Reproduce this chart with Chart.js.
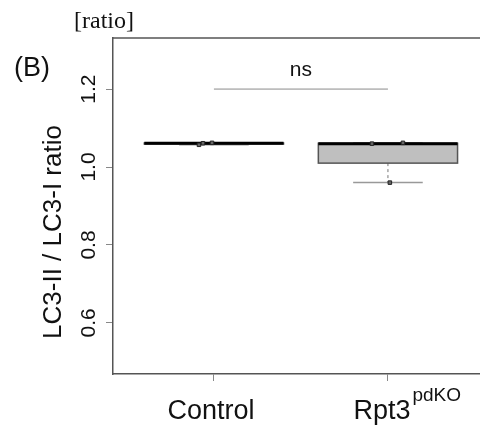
<!DOCTYPE html>
<html>
<head>
<meta charset="utf-8">
<title>LC3-II / LC3-I ratio</title>
<script src="https://cdn.jsdelivr.net/npm/chart.js@4.4.1/dist/chart.umd.min.js"></script>
<style>
  html, body { margin: 0; padding: 0; background: #fff; overflow: hidden; }
  #wrap { width: 480px; height: 427px; position: relative; }
</style>
</head>
<body>
<div id="wrap"><canvas id="chart"></canvas></div>
<script>
// groups on the x axis
const groups = ['Control', 'Rpt3'];
const groupSup = ['', 'pdKO'];
const groupPos = [1, 2];

// individual samples and where they were jittered to
const controlValues = [1.057, 1.061, 1.062];
const controlJitter = [0.914, 0.937, 0.989];
const rpt3Values = [1.060, 1.062, 0.960];
const rpt3Jitter = [1.908, 2.086, 2.011];

// axes
const yTicks = [0.6, 0.8, 1.0, 1.2];
const yRange = [0.469, 1.331];
const xRange = [0.42, 2.529];

// significance bracket
const bracketY = 1.2;
const bracketLabel = 'ns';

const sans = "'Liberation Sans', Arial, sans-serif";
const serif = "'Liberation Serif', 'Times New Roman', serif";

// Tukey five number summary, like R's fivenum()
function fivenum(values) {
    const s = values.slice().sort((a, b) => a - b);
    const n = s.length;
    const n4 = Math.floor((n + 3) / 2) / 2;
    const d = [1, n4, (n + 1) / 2, n + 1 - n4, n];
    return d.map(p => 0.5 * (s[Math.floor(p) - 1] + s[Math.ceil(p) - 1]));
}

const boxes = [controlValues, rpt3Values].map(vals => {
    const f = fivenum(vals);
    const iqr = f[3] - f[1];
    const inside = vals.filter(v => v >= f[1] - 1.5 * iqr && v <= f[3] + 1.5 * iqr);
    return {
        lo: Math.min(...inside),
        q1: f[1],
        med: f[2],
        q3: f[3],
        hi: Math.max(...inside)
    };
});

// box, whiskers, staples and median, drawn under the points
const boxPlugin = {
    id: 'boxes',
    beforeDatasetsDraw(chart) {
        const ctx = chart.ctx;
        const x = chart.scales.x;
        const y = chart.scales.y;
        boxes.forEach((b, i) => {
            const cx = groupPos[i];
            const left = x.getPixelForValue(cx - 0.4);
            const right = x.getPixelForValue(cx + 0.4);
            const sl = x.getPixelForValue(cx - 0.2);
            const sr = x.getPixelForValue(cx + 0.2);
            const mid = x.getPixelForValue(cx);

            ctx.save();
            // whiskers
            ctx.strokeStyle = '#777';
            ctx.lineWidth = 1;
            ctx.setLineDash([3, 3]);
            ctx.beginPath();
            ctx.moveTo(mid, y.getPixelForValue(b.q1));
            ctx.lineTo(mid, y.getPixelForValue(b.lo));
            ctx.moveTo(mid, y.getPixelForValue(b.q3));
            ctx.lineTo(mid, y.getPixelForValue(b.hi));
            ctx.stroke();

            // staples
            ctx.setLineDash([]);
            ctx.strokeStyle = '#999';
            ctx.lineWidth = 1.5;
            ctx.beginPath();
            ctx.moveTo(sl, y.getPixelForValue(b.lo));
            ctx.lineTo(sr, y.getPixelForValue(b.lo));
            ctx.moveTo(sl, y.getPixelForValue(b.hi));
            ctx.lineTo(sr, y.getPixelForValue(b.hi));
            ctx.stroke();

            // box
            const top = y.getPixelForValue(b.q3);
            const bottom = y.getPixelForValue(b.q1);
            ctx.fillStyle = '#bfbfbf';
            ctx.fillRect(left, top, right - left, bottom - top);
            ctx.strokeStyle = '#555';
            ctx.lineWidth = 1.5;
            ctx.strokeRect(left, top, right - left, bottom - top);

            // median
            ctx.strokeStyle = '#000';
            ctx.lineWidth = 3;
            ctx.beginPath();
            ctx.moveTo(left, y.getPixelForValue(b.med));
            ctx.lineTo(right, y.getPixelForValue(b.med));
            ctx.stroke();
            ctx.restore();
        });
    }
};

// all the text, R style: rotated y tick labels, group names, panel letter
const textPlugin = {
    id: 'texts',
    afterDraw(chart) {
        const ctx = chart.ctx;
        const x = chart.scales.x;
        const y = chart.scales.y;
        const area = chart.chartArea;

        ctx.save();
        // top border of the plot box (right side runs off the canvas)
        ctx.strokeStyle = '#555';
        ctx.lineWidth = 1.5;
        ctx.beginPath();
        ctx.moveTo(area.left, area.top);
        ctx.lineTo(chart.width, area.top);
        ctx.stroke();

        ctx.fillStyle = '#111';
        ctx.textBaseline = 'middle';
        ctx.textAlign = 'center';

        // y tick labels
        ctx.font = '21px ' + sans;
        yTicks.forEach(v => {
            ctx.save();
            ctx.translate(89, y.getPixelForValue(v));
            ctx.rotate(-Math.PI / 2);
            ctx.fillText(v.toFixed(1), 0, 0);
            ctx.restore();
        });

        // y title
        ctx.save();
        ctx.font = '26px ' + sans;
        ctx.translate(54, 232);
        ctx.rotate(-Math.PI / 2);
        ctx.fillText('LC3-II / LC3-I ratio', 0, 0);
        ctx.restore();

        // group labels with optional superscript
        ctx.textBaseline = 'alphabetic';
        groups.forEach((g, i) => {
            ctx.font = '27px ' + sans;
            const w1 = ctx.measureText(g).width;
            ctx.font = '19px ' + sans;
            const w2 = groupSup[i] ? ctx.measureText(groupSup[i]).width + 2 : 0;
            const cx = x.getPixelForValue(groupPos[i]) + (w2 ? w2 / 2 - 6 : -3);
            const start = cx - (w1 + w2) / 2;
            ctx.textAlign = 'left';
            ctx.font = '27px ' + sans;
            ctx.fillText(g, start, 419);
            if (w2) {
                ctx.font = '19px ' + sans;
                ctx.fillText(groupSup[i], start + w1 + 2, 401);
            }
        });

        // significance label
        ctx.textAlign = 'center';
        ctx.textBaseline = 'middle';
        ctx.font = '21px ' + sans;
        ctx.fillText(bracketLabel, (x.getPixelForValue(groupPos[0]) + x.getPixelForValue(groupPos[1])) / 2, 70);

        // panel letter and unit
        ctx.font = '27px ' + sans;
        ctx.fillText('(B)', 32, 69);
        ctx.font = '24px ' + serif;
        ctx.fillText('[ratio]', 104, 22);
        ctx.restore();
    }
};

const ctx = document.getElementById('chart');

new Chart(ctx, {
    type: 'scatter',
    data: {
        datasets: [
            {
                label: 'bracket',
                data: [{x: groupPos[0], y: bracketY}, {x: groupPos[1], y: bracketY}],
                showLine: true,
                borderColor: '#8a8a8a',
                borderWidth: 1,
                pointRadius: 0
            },
            {
                label: groups[0],
                data: controlValues.map((v, i) => ({x: controlJitter[i], y: v})),
                pointStyle: 'rect',
                pointRadius: 2.5,
                backgroundColor: '#666',
                borderColor: '#222',
                borderWidth: 1
            },
            {
                label: groups[1],
                data: rpt3Values.map((v, i) => ({x: rpt3Jitter[i], y: v})),
                pointStyle: 'rect',
                pointRadius: 2.5,
                backgroundColor: '#666',
                borderColor: '#222',
                borderWidth: 1
            }
        ]
    },
    options: {
        responsive: true,
        maintainAspectRatio: false,
        animation: false,
        layout: {
            autoPadding: false,
            padding: { top: 38, right: 0, bottom: 0, left: 0 }
        },
        plugins: {
            legend: { display: false },
            tooltip: { enabled: false }
        },
        scales: {
            x: {
                type: 'linear',
                min: xRange[0],
                max: xRange[1],
                afterBuildTicks: scale => {
                    scale.ticks = groupPos.map(v => ({value: v}));
                },
                afterFit: scale => {
                    scale.height = 53;
                    scale.paddingLeft = 0;
                    scale.paddingRight = 0;
                },
                ticks: { display: false },
                grid: {
                    drawOnChartArea: false,
                    drawTicks: true,
                    tickLength: 7,
                    color: '#888'
                },
                border: { color: '#555', width: 1.5 }
            },
            y: {
                type: 'linear',
                min: yRange[0],
                max: yRange[1],
                afterBuildTicks: scale => {
                    scale.ticks = yTicks.map(v => ({value: v}));
                },
                afterFit: scale => {
                    scale.width = 113;
                    scale.paddingTop = 0;
                    scale.paddingBottom = 0;
                },
                ticks: { display: false },
                grid: {
                    drawOnChartArea: false,
                    drawTicks: true,
                    tickLength: 7,
                    color: '#888'
                },
                border: { color: '#555', width: 1.5 }
            }
        }
    },
    plugins: [boxPlugin, textPlugin]
});
</script>
</body>
</html>
